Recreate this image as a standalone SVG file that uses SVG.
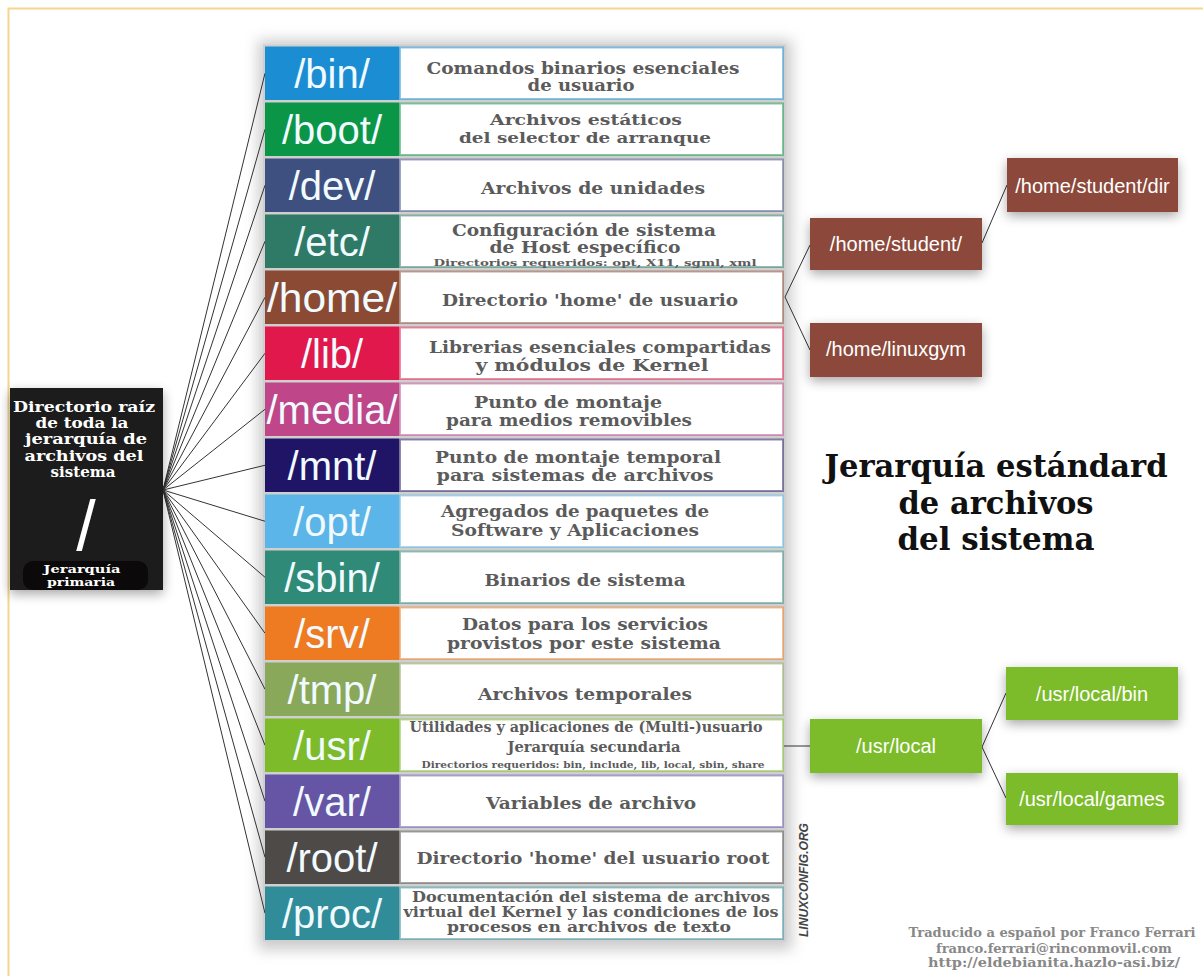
<svg xmlns="http://www.w3.org/2000/svg" width="1203" height="976" viewBox="0 0 1203 976">
<style>
.lbl{font-family:"Liberation Sans",Arial,sans-serif;font-size:40px;fill:#f0faff;text-anchor:middle}
.d{font-family:"DejaVu Serif","Liberation Serif",serif;font-weight:bold;fill:#5b5b5b;text-anchor:middle}
.desc{fill:#fff;stroke-width:2;stroke-opacity:0.5}
.rt{font-family:"Liberation Sans",Arial,sans-serif;font-size:20px;fill:#fff;text-anchor:middle}
.wt{font-family:"DejaVu Serif","Liberation Serif",serif;font-weight:bold;fill:#fff;text-anchor:middle}
.conn{stroke:#333;stroke-width:1;fill:none}
.brown{fill:#8c4a3a}
.green{fill:#7cbb2b}
</style>
<defs>
<filter id="sh" x="-30%" y="-40%" width="160%" height="200%">
<feGaussianBlur in="SourceAlpha" stdDeviation="6"/>
<feOffset dx="0" dy="4" result="b"/>
<feComponentTransfer><feFuncA type="linear" slope="0.35"/></feComponentTransfer>
<feMerge><feMergeNode/><feMergeNode in="SourceGraphic"/></feMerge>
</filter>
<filter id="blur" x="-10%" y="-10%" width="120%" height="120%">
<feGaussianBlur stdDeviation="7"/>
</filter>
</defs>
<rect width="1203" height="976" fill="#fff"/>
<rect x="8.5" y="8.5" width="1250" height="1050" fill="none" stroke="#f6d68e" stroke-width="2"/>

<!-- table shadow -->
<rect x="258" y="40" width="534" height="910" fill="#aaa" opacity="0.6" filter="url(#blur)"/>
<rect x="263" y="44.5" width="523" height="897" fill="#cfcfcf"/>

<g id="connectors">
<line class="conn" x1="163" y1="490" x2="265" y2="73.25"/>
<line class="conn" x1="163" y1="490" x2="265" y2="129.25"/>
<line class="conn" x1="163" y1="490" x2="265" y2="185.25"/>
<line class="conn" x1="163" y1="490" x2="265" y2="241.25"/>
<line class="conn" x1="163" y1="490" x2="265" y2="297.25"/>
<line class="conn" x1="163" y1="490" x2="265" y2="353.25"/>
<line class="conn" x1="163" y1="490" x2="265" y2="409.25"/>
<line class="conn" x1="163" y1="490" x2="265" y2="465.25"/>
<line class="conn" x1="163" y1="490" x2="265" y2="521.25"/>
<line class="conn" x1="163" y1="490" x2="265" y2="577.25"/>
<line class="conn" x1="163" y1="490" x2="265" y2="633.25"/>
<line class="conn" x1="163" y1="490" x2="265" y2="689.25"/>
<line class="conn" x1="163" y1="490" x2="265" y2="745.25"/>
<line class="conn" x1="163" y1="490" x2="265" y2="801.25"/>
<line class="conn" x1="163" y1="490" x2="265" y2="857.25"/>
<line class="conn" x1="163" y1="490" x2="265" y2="913.25"/>
<polyline class="conn" points="810,245 785,297 810,350"/>
<line class="conn" x1="982" y1="243" x2="1007" y2="185"/>
<line class="conn" x1="784" y1="746" x2="810" y2="746"/>
<polyline class="conn" points="1006,693 982,747 1006,798"/>
</g>

<g id="root">
<rect x="10" y="388" width="153" height="202" fill="#1f1b1a" filter="url(#sh)"/>
<text class="wt" font-size="15" x="84" y="412" textLength="142" lengthAdjust="spacingAndGlyphs">Directorio raíz</text>
<text class="wt" font-size="15" x="82" y="428" textLength="93" lengthAdjust="spacingAndGlyphs">de toda la</text>
<text class="wt" font-size="15" x="86" y="444" textLength="122" lengthAdjust="spacingAndGlyphs">jerarquía de</text>
<text class="wt" font-size="15" x="84" y="460.5" textLength="119" lengthAdjust="spacingAndGlyphs">archivos del</text>
<text class="wt" font-size="15" x="83" y="477" textLength="65" lengthAdjust="spacingAndGlyphs">sistema</text>
<text x="86" y="550" font-family="Liberation Sans,Arial,sans-serif" font-size="70" fill="#fff" text-anchor="middle">/</text>
<rect x="23" y="561" width="125" height="29" rx="10" fill="#0b0909"/>
<text class="wt" font-size="11" x="82" y="573" textLength="77" lengthAdjust="spacingAndGlyphs">Jerarquía</text>
<text class="wt" font-size="11" x="81" y="585.5" textLength="68" lengthAdjust="spacingAndGlyphs">primaria</text>
</g>

<g id="bin">
<rect x="265" y="46.5" width="134" height="53.5" fill="#1b8ed3"/>
<rect class="desc" x="400" y="47.5" width="383" height="51.5" stroke="#1b8ed3"/>
<text class="lbl" x="332" y="87.5">/bin/</text>
<text class="d" font-size="16" x="583" y="73.5" textLength="313" lengthAdjust="spacingAndGlyphs">Comandos binarios esenciales</text>
<text class="d" font-size="16" x="581" y="91" textLength="107" lengthAdjust="spacingAndGlyphs">de usuario</text>
</g>
<g id="boot">
<rect x="265" y="102.5" width="134" height="53.5" fill="#0a9646"/>
<rect class="desc" x="400" y="103.5" width="383" height="51.5" stroke="#0a9646"/>
<text class="lbl" x="332" y="143.5">/boot/</text>
<text class="d" font-size="15.5" x="586" y="124.5" textLength="192" lengthAdjust="spacingAndGlyphs">Archivos estáticos</text>
<text class="d" font-size="15.5" x="585" y="142.5" textLength="252" lengthAdjust="spacingAndGlyphs">del selector de arranque</text>
</g>
<g id="dev">
<rect x="265" y="158.5" width="134" height="53.5" fill="#3e5080"/>
<rect class="desc" x="400" y="159.5" width="383" height="51.5" stroke="#3e5080"/>
<text class="lbl" x="332" y="199.5">/dev/</text>
<text class="d" font-size="17" x="593" y="194" textLength="224" lengthAdjust="spacingAndGlyphs">Archivos de unidades</text>
</g>
<g id="etc">
<rect x="265" y="214.5" width="134" height="53.5" fill="#2e7a66"/>
<rect class="desc" x="400" y="215.5" width="383" height="51.5" stroke="#2e7a66"/>
<text class="lbl" x="332" y="255.5">/etc/</text>
<text class="d" font-size="16" x="584" y="235.5" textLength="264" lengthAdjust="spacingAndGlyphs">Configuración de sistema</text>
<text class="d" font-size="16" x="585" y="252.5" textLength="191" lengthAdjust="spacingAndGlyphs">de Host específico</text>
<text class="d" font-size="9.5" x="595" y="265.5" textLength="323" lengthAdjust="spacingAndGlyphs">Directorios requeridos: opt, X11, sgml, xml</text>
</g>
<g id="home">
<rect x="265" y="270.5" width="134" height="53.5" fill="#8a4a33"/>
<rect class="desc" x="400" y="271.5" width="383" height="51.5" stroke="#8a4a33"/>
<text class="lbl" x="332" y="311.5" textLength="130" lengthAdjust="spacingAndGlyphs">/home/</text>
<text class="d" font-size="17" x="590" y="305.5" textLength="296" lengthAdjust="spacingAndGlyphs">Directorio 'home' de usuario</text>
</g>
<g id="lib">
<rect x="265" y="326.5" width="134" height="53.5" fill="#e1184b"/>
<rect class="desc" x="400" y="327.5" width="383" height="51.5" stroke="#e1184b"/>
<text class="lbl" x="332" y="367.5">/lib/</text>
<text class="d" font-size="17" x="600" y="353" textLength="342" lengthAdjust="spacingAndGlyphs">Librerias esenciales compartidas</text>
<text class="d" font-size="17" x="592" y="371" textLength="233" lengthAdjust="spacingAndGlyphs">y módulos de Kernel</text>
</g>
<g id="media">
<rect x="265" y="382.5" width="134" height="53.5" fill="#bf4688"/>
<rect class="desc" x="400" y="383.5" width="383" height="51.5" stroke="#bf4688"/>
<text class="lbl" x="332" y="423.5" textLength="131" lengthAdjust="spacingAndGlyphs">/media/</text>
<text class="d" font-size="16" x="568" y="408" textLength="188" lengthAdjust="spacingAndGlyphs">Punto de montaje</text>
<text class="d" font-size="16" x="569" y="426" textLength="246" lengthAdjust="spacingAndGlyphs">para medios removibles</text>
</g>
<g id="mnt">
<rect x="265" y="438.5" width="134" height="53.5" fill="#1f1466"/>
<rect class="desc" x="400" y="439.5" width="383" height="51.5" stroke="#1f1466"/>
<text class="lbl" x="332" y="479.5">/mnt/</text>
<text class="d" font-size="17" x="578" y="462.5" textLength="286" lengthAdjust="spacingAndGlyphs">Punto de montaje temporal</text>
<text class="d" font-size="17" x="575" y="481" textLength="277" lengthAdjust="spacingAndGlyphs">para sistemas de archivos</text>
</g>
<g id="opt">
<rect x="265" y="494.5" width="134" height="53.5" fill="#5cb5e8"/>
<rect class="desc" x="400" y="495.5" width="383" height="51.5" stroke="#5cb5e8"/>
<text class="lbl" x="332" y="535.5">/opt/</text>
<text class="d" font-size="17" x="575" y="517" textLength="268" lengthAdjust="spacingAndGlyphs">Agregados de paquetes de</text>
<text class="d" font-size="17" x="575" y="535.5" textLength="248" lengthAdjust="spacingAndGlyphs">Software y Aplicaciones</text>
</g>
<g id="sbin">
<rect x="265" y="550.5" width="134" height="53.5" fill="#2f8a78"/>
<rect class="desc" x="400" y="551.5" width="383" height="51.5" stroke="#2f8a78"/>
<text class="lbl" x="332" y="591.5">/sbin/</text>
<text class="d" font-size="17" x="585" y="586" textLength="201" lengthAdjust="spacingAndGlyphs">Binarios de sistema</text>
</g>
<g id="srv">
<rect x="265" y="606.5" width="134" height="53.5" fill="#ee7b22"/>
<rect class="desc" x="400" y="607.5" width="383" height="51.5" stroke="#ee7b22"/>
<text class="lbl" x="332" y="647.5">/srv/</text>
<text class="d" font-size="17" x="585" y="630" textLength="246" lengthAdjust="spacingAndGlyphs">Datos para los servicios</text>
<text class="d" font-size="17" x="584" y="649" textLength="274" lengthAdjust="spacingAndGlyphs">provistos por este sistema</text>
</g>
<g id="tmp">
<rect x="265" y="662.5" width="134" height="53.5" fill="#89a85a"/>
<rect class="desc" x="400" y="663.5" width="383" height="51.5" stroke="#89a85a"/>
<text class="lbl" x="332" y="703.5">/tmp/</text>
<text class="d" font-size="17" x="585" y="699.5" textLength="214" lengthAdjust="spacingAndGlyphs">Archivos temporales</text>
</g>
<g id="usr">
<rect x="265" y="718.5" width="134" height="53.5" fill="#7dbb2b"/>
<rect class="desc" x="400" y="719.5" width="383" height="51.5" stroke="#7dbb2b"/>
<text class="lbl" x="332" y="759.5">/usr/</text>
<text class="d" font-size="14" x="586" y="732" textLength="353" lengthAdjust="spacingAndGlyphs">Utilidades y aplicaciones de (Multi-)usuario</text>
<text class="d" font-size="15" x="594" y="752" textLength="173" lengthAdjust="spacingAndGlyphs">Jerarquía secundaria</text>
<text class="d" font-size="8.5" x="593" y="768" textLength="343" lengthAdjust="spacingAndGlyphs">Directorios requeridos: bin, include, lib, local, sbin, share</text>
</g>
<g id="var">
<rect x="265" y="774.5" width="134" height="53.5" fill="#6655a5"/>
<rect class="desc" x="400" y="775.5" width="383" height="51.5" stroke="#6655a5"/>
<text class="lbl" x="332" y="815.5">/var/</text>
<text class="d" font-size="17" x="591" y="808.5" textLength="210" lengthAdjust="spacingAndGlyphs">Variables de archivo</text>
</g>
<g id="rootdir">
<rect x="265" y="830.5" width="134" height="53.5" fill="#4e4a48"/>
<rect class="desc" x="400" y="831.5" width="383" height="51.5" stroke="#4e4a48"/>
<text class="lbl" x="332" y="871.5">/root/</text>
<text class="d" font-size="17" x="593" y="863.5" textLength="353" lengthAdjust="spacingAndGlyphs">Directorio 'home' del usuario root</text>
</g>
<g id="proc">
<rect x="265" y="886.5" width="134" height="53.5" fill="#2f8c98"/>
<rect class="desc" x="400" y="887.5" width="383" height="51.5" stroke="#2f8c98"/>
<text class="lbl" x="332" y="927.5">/proc/</text>
<text class="d" font-size="14" x="591" y="902" textLength="358" lengthAdjust="spacingAndGlyphs">Documentación del sistema de archivos</text>
<text class="d" font-size="14" x="591" y="917" textLength="375" lengthAdjust="spacingAndGlyphs">virtual del Kernel y las condiciones de los</text>
<text class="d" font-size="14" x="589" y="931.5" textLength="284" lengthAdjust="spacingAndGlyphs">procesos en archivos de texto</text>
</g>

<g id="home-student">
<rect class="brown" x="810" y="218" width="172" height="52" filter="url(#sh)"/>
<text class="rt" x="896" y="251">/home/student/</text>
</g>
<g id="home-linuxgym">
<rect class="brown" x="810" y="323" width="172" height="54" filter="url(#sh)"/>
<text class="rt" x="896" y="356">/home/linuxgym</text>
</g>
<g id="home-student-dir">
<rect class="brown" x="1007" y="158" width="171" height="54" filter="url(#sh)"/>
<text class="rt" x="1092.5" y="192.5">/home/student/dir</text>
</g>
<g id="usr-local">
<rect class="green" x="810" y="719" width="172" height="54" filter="url(#sh)"/>
<text class="rt" x="896" y="753">/usr/local</text>
</g>
<g id="usr-local-bin">
<rect class="green" x="1006" y="667" width="172" height="53" filter="url(#sh)"/>
<text class="rt" x="1092" y="700.5">/usr/local/bin</text>
</g>
<g id="usr-local-games">
<rect class="green" x="1006" y="773" width="172" height="52" filter="url(#sh)"/>
<text class="rt" x="1092" y="805.5">/usr/local/games</text>
</g>

<g id="title">
<text class="d" style="fill:#111" font-size="31" x="996" y="477" textLength="343" lengthAdjust="spacingAndGlyphs">Jerarquía estándard</text>
<text class="d" style="fill:#111" font-size="31" x="996" y="514" textLength="195" lengthAdjust="spacingAndGlyphs">de archivos</text>
<text class="d" style="fill:#111" font-size="31" x="996" y="550" textLength="197" lengthAdjust="spacingAndGlyphs">del sistema</text>
</g>

<g id="watermark">
<text x="0" y="0" transform="translate(808,880) rotate(-90)" font-family="Liberation Sans,Arial,sans-serif" font-weight="bold" font-style="italic" font-size="12" fill="#444" text-anchor="middle" textLength="114" lengthAdjust="spacingAndGlyphs">LINUXCONFIG.ORG</text>
</g>

<g id="credits">
<text class="d" style="fill:#888" font-size="12" x="1052" y="937" textLength="287" lengthAdjust="spacingAndGlyphs">Traducido a español por Franco Ferrari</text>
<text class="d" style="fill:#888" font-size="12" x="1054" y="952.5" textLength="236" lengthAdjust="spacingAndGlyphs">franco.ferrari@rinconmovil.com</text>
<text class="d" style="fill:#888" font-size="12" x="1054" y="967" textLength="252" lengthAdjust="spacingAndGlyphs">http://eldebianita.hazlo-asi.biz/</text>
</g>
</svg>
